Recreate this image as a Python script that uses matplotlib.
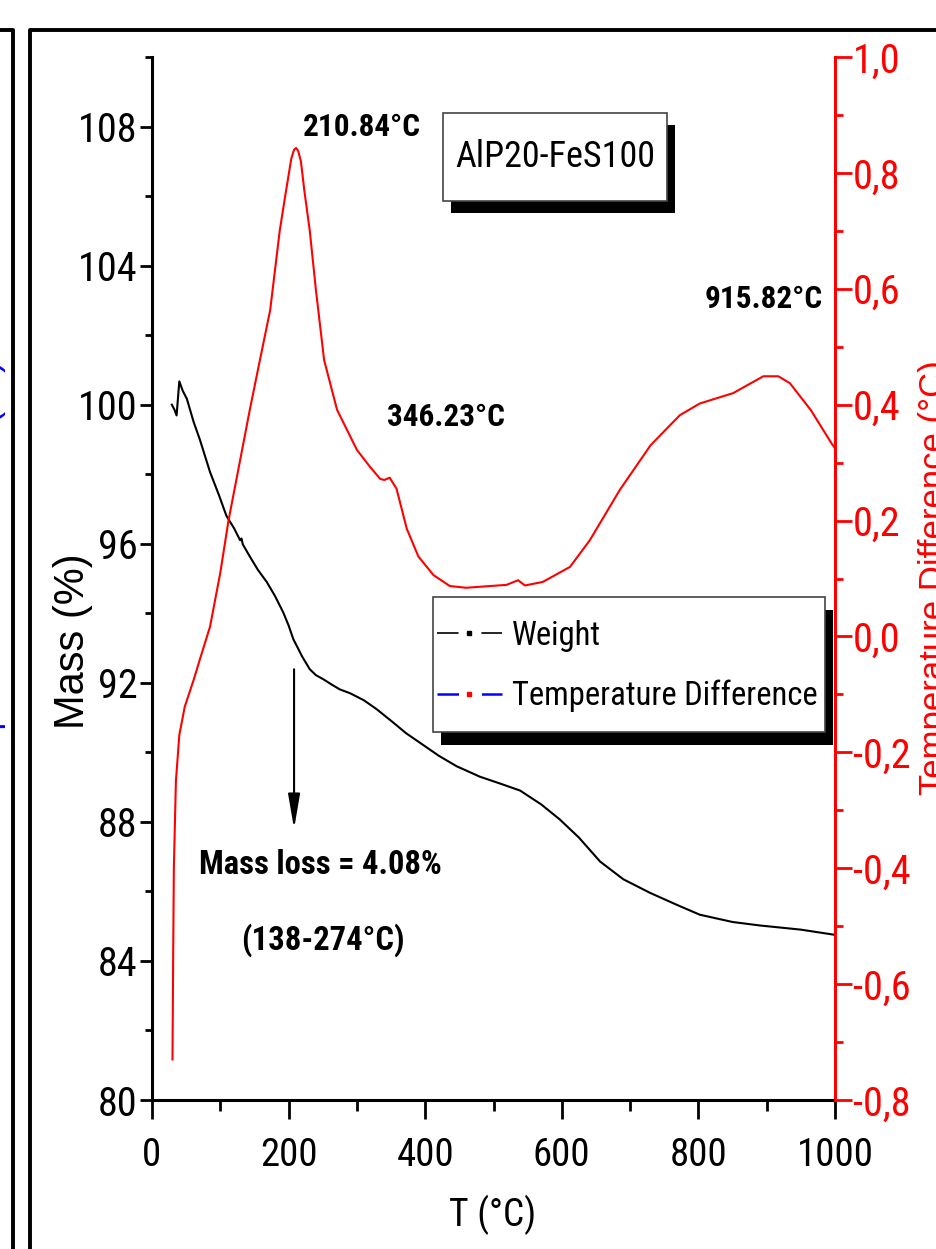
import numpy as np
import matplotlib
matplotlib.use("Agg")
import matplotlib.pyplot as plt
from matplotlib.lines import Line2D
from matplotlib.patches import Rectangle
from matplotlib.ticker import MultipleLocator, FuncFormatter
from matplotlib.legend_handler import HandlerTuple

NARROW = ['Liberation Sans Narrow', 'Noto Sans Condensed', 'Roboto Condensed',
          'Liberation Sans', 'DejaVu Sans']
REGULAR = ['Liberation Sans', 'DejaVu Sans']
plt.rcParams['font.family'] = NARROW
plt.rcParams['lines.scale_dashes'] = False

# TG curve (left axis)
T_WEIGHT = [29, 33, 36, 40, 45, 51, 61, 70, 85, 98,
            109, 120, 129, 131, 133, 143, 155, 168, 180, 192,
            200, 207, 212, 220, 231, 240, 251, 263, 275, 290,
            310, 329, 353, 372, 392, 420, 446, 480, 510, 539,
            570, 597, 625, 656, 690, 729, 770, 802, 850, 890,
            950, 1000]
MASS = [100.0, 99.85, 99.69, 100.67, 100.4, 100.17, 99.5, 99.0, 98.06, 97.4,
        96.8, 96.45, 96.1, 96.15, 95.98, 95.64, 95.25, 94.9, 94.5, 94.03,
        93.65, 93.25, 93.06, 92.75, 92.39, 92.22, 92.1, 91.95, 91.81, 91.7,
        91.5, 91.24, 90.86, 90.55, 90.28, 89.9, 89.6, 89.3, 89.1, 88.9,
        88.5, 88.07, 87.55, 86.86, 86.35, 85.96, 85.6, 85.33, 85.12, 85.02,
        84.9, 84.75]

# DTA curve (right axis)
T_DTA = [30, 31, 32, 35, 40, 48, 61, 70, 85, 100,
         112, 129, 143, 158, 173, 187, 195, 200, 204, 208,
         211, 214, 218, 223, 231, 240, 252, 271, 300, 319,
         334, 340, 348, 358, 373, 390, 412, 436, 460, 495,
         519, 536, 546, 572, 612, 641, 685, 730, 773, 802,
         851, 895, 917, 934, 965, 995, 1000]
DTA = [-0.73, -0.55, -0.40, -0.25, -0.17, -0.121, -0.075, -0.04, 0.017, 0.11,
       0.20, 0.304, 0.39, 0.477, 0.563, 0.70, 0.76, 0.796, 0.825, 0.84,
       0.843, 0.838, 0.82, 0.77, 0.70, 0.598, 0.477, 0.391, 0.322, 0.293,
       0.272, 0.270, 0.274, 0.255, 0.186, 0.138, 0.106, 0.087, 0.084, 0.087,
       0.089, 0.097, 0.088, 0.094, 0.120, 0.166, 0.253, 0.33, 0.382, 0.402,
       0.420, 0.449, 0.449, 0.437, 0.39, 0.333, 0.325]

PEAK_LABELS = ["210.84°C", "346.23°C", "915.82°C"]
PEAK_POS = [(307, 108.0), (430, 99.65), (896, 103.05)]

W_PX, H_PX = 936, 1249


def fx(px):
    return px / W_PX


def fy(py):
    return 1 - py / H_PX


def shadow_box(axis, x0, y0, x1, y1, dx, dy, z):
    # white box with an offset black drop shadow, in picture pixels
    axis.add_patch(Rectangle((fx(x0 + dx), fy(y1 + dy)), fx(x1) - fx(x0),
                             fy(y0) - fy(y1), transform=fig.transFigure,
                             facecolor='black', edgecolor='none',
                             zorder=z, clip_on=False))
    axis.add_patch(Rectangle((fx(x0), fy(y1)), fx(x1) - fx(x0),
                             fy(y0) - fy(y1), transform=fig.transFigure,
                             facecolor='white', edgecolor='#444444', lw=1.2,
                             zorder=z + 0.1, clip_on=False))


fig = plt.figure(figsize=(9.36, 12.49), dpi=100)
fig.patch.set_facecolor('white')

ax = fig.add_axes([fx(152), fy(1100), fx(835) - fx(152), fy(57) - fy(1100)])
ax2 = ax.twinx()

ax.plot(T_WEIGHT, MASS, color='black', lw=1.5)
ax2.plot(T_DTA, DTA, color='red', lw=1.5)

ax.set_xlim(0, 1000)
ax.set_ylim(80, 110)
ax2.set_ylim(-0.8, 1.0)

# spines
for s in ['top', 'right']:
    ax.spines[s].set_visible(False)
for s in ['top', 'left', 'bottom']:
    ax2.spines[s].set_visible(False)
ax.spines['left'].set_linewidth(2.2)
ax.spines['bottom'].set_linewidth(2.2)
ax2.spines['right'].set_linewidth(2.2)
ax2.spines['right'].set_color('red')

# ticks
ax.xaxis.set_major_locator(MultipleLocator(200))
ax.xaxis.set_minor_locator(MultipleLocator(100))
ax.yaxis.set_major_locator(MultipleLocator(4))
ax.yaxis.set_minor_locator(MultipleLocator(2))
ax2.yaxis.set_major_locator(MultipleLocator(0.2))
ax2.yaxis.set_minor_locator(MultipleLocator(0.1))
ax2.yaxis.set_major_formatter(FuncFormatter(
    lambda v, p: f"{round(v, 1) + 0.0:.1f}".replace('.', ',')))

ax.tick_params(axis='x', which='major', direction='out', length=14, width=2,
               labelsize=28, pad=13)
ax.tick_params(axis='x', which='minor', direction='out', length=8, width=2)
ax.tick_params(axis='y', which='major', direction='out', length=9, width=2,
               labelsize=29, pad=1.5)
ax.tick_params(axis='y', which='minor', direction='out', length=5, width=2)
ax2.tick_params(axis='y', which='major', direction='out', length=12, width=2,
                labelsize=29, pad=1, colors='red')
ax2.tick_params(axis='y', which='minor', direction='out', length=6, width=2,
                colors='red')

# axis labels
fig.text(fx(73), fy(641), "Mass (%)", rotation=90, ha='center', va='center',
         fontsize=30, family=REGULAR)
fig.text(fx(493), fy(1215), "T (°C)", ha='center', va='center', fontsize=27)

# annotations
for lab, (tx, ty) in zip(PEAK_LABELS, PEAK_POS):
    ax.text(tx, ty, lab, ha='center', va='center', fontsize=22.5,
            fontweight='bold', zorder=6)
ax.text(246, 86.77, "Mass loss = 4.08%", ha='center', va='center',
        fontsize=23.5, fontweight='bold', zorder=6)
ax.text(250, 84.6, "(138-274°C)", ha='center', va='center',
        fontsize=23.5, fontweight='bold', zorder=6)
ax.annotate('', xy=(208, 87.72), xytext=(208, 92.47),
            arrowprops=dict(arrowstyle='-|>,head_length=0.7,head_width=0.12',
                            color='black', lw=1.5, mutation_scale=30))

# sample name box
shadow_box(ax2, 443, 113, 667, 201, 8, 12, 7)
ax2.text(fx(555), fy(157), "AlP20-FeS100", transform=fig.transFigure,
         ha='center', va='center', fontsize=26, zorder=9)

# legend (box drawn separately so it gets the Origin-style shadow)
shadow_box(ax2, 433, 597, 825, 732, 8, 13, 7)
DASH = (15.5, 16.5, 15.5, 200)
h1 = (Line2D([], [], color='black', lw=1.2, dashes=DASH),
      Line2D([], [], color='black', ls='none', marker='s', markersize=3))
h2 = (Line2D([], [], color='blue', lw=1.8, dashes=DASH),
      Line2D([], [], color='red', ls='none', marker='s', markersize=3))
leg = ax2.legend([h1, h2], ["Weight", "Temperature Difference"],
                 handler_map={tuple: HandlerTuple(ndivide=1, pad=0)},
                 loc='center', bbox_to_anchor=(fx(627), fy(666)),
                 bbox_transform=fig.transFigure, fontsize=23.5, frameon=False,
                 borderpad=0.2, handlelength=2.0, handletextpad=0.3,
                 labelspacing=0.85, borderaxespad=0)
leg.set_zorder(9)

# page frame of the composite figure
fig.add_artist(Line2D([fx(30), fx(30), 1.01], [-0.01, fy(30), fy(30)],
                      transform=fig.transFigure, color='black', lw=2.8))
fig.add_artist(Line2D([-0.01, fx(13), fx(13)], [fy(30), fy(30), -0.01],
                      transform=fig.transFigure, color='black', lw=2.8))

# cut-off axis titles of the neighbouring panels
fig.text(fx(918), fy(578), "Temperature Difference (°C)", rotation=90,
         ha='left', va='center', fontsize=25, color='red', family=REGULAR)
fig.text(fx(6), fy(578), "Temperature Difference (°C)", rotation=90,
         ha='right', va='center', fontsize=25, color='blue', family=REGULAR)

fig.savefig("out.png", dpi=100)
